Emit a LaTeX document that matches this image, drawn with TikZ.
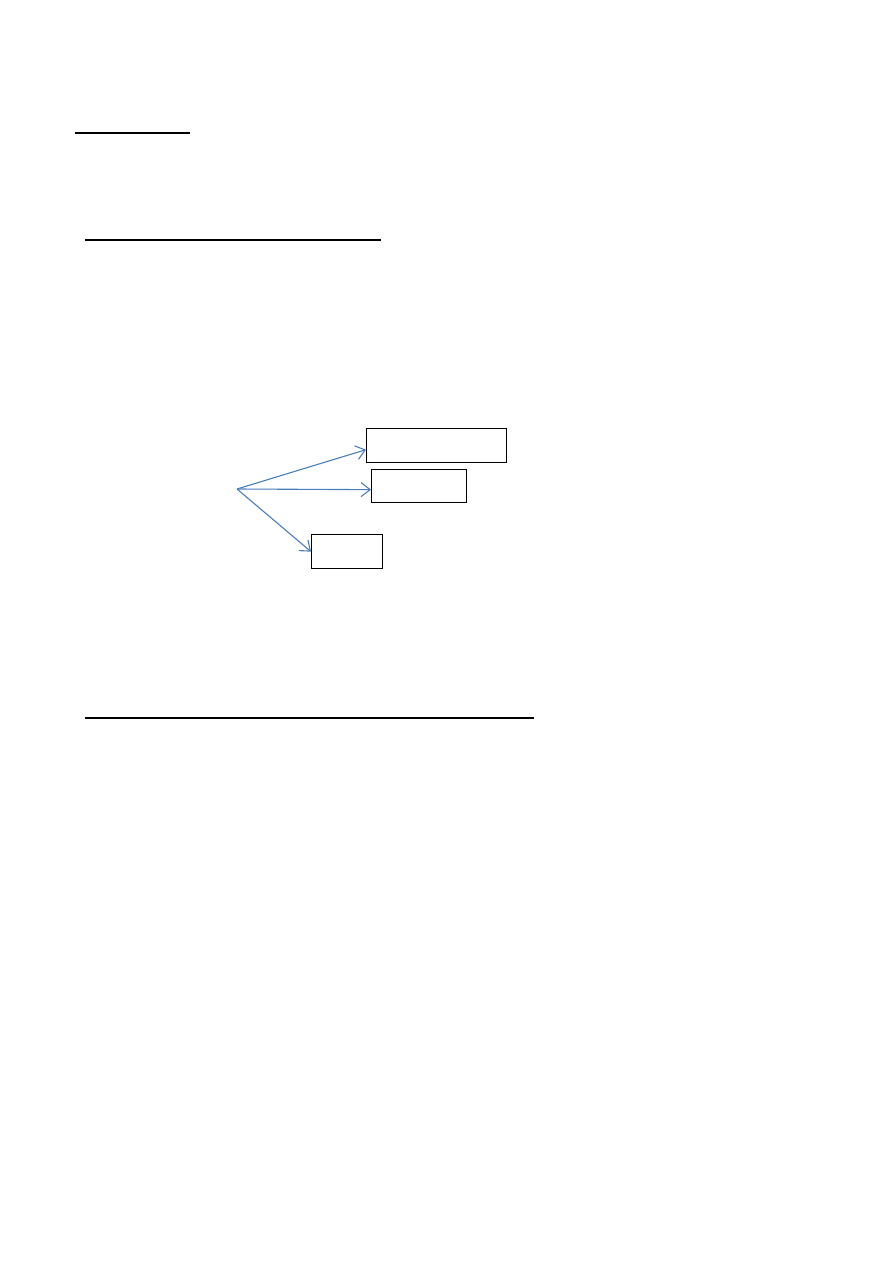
\documentclass[tikz,border=0pt]{standalone}
\usepackage{color}
\usepackage{tikz}
\usetikzlibrary{arrows.meta}
\definecolor{officeblue}{HTML}{4A7EBB}
\tikzstyle{box} = [rectangle, draw=black, line width=1.3pt, inner sep=0pt, anchor=north west]
\tikzstyle{rule} = [black, line width=2pt]
\tikzstyle{arrow} = [officeblue, line width=1.1pt, -{Straight Barb[length=9pt, width=14pt, line width=1.1pt]}]

\begin{document}
\begin{tikzpicture}[x=1pt, y=-1pt]
\useasboundingbox (0,0) rectangle (893,1263);

% heading rules
\draw[rule, line width=2.8pt](75,133) -- (190,133);
\draw[rule](85,240) -- (381,240);
\draw[rule](85,718) -- (534,718);

% boxes
\node(boxA)[box, minimum width=140pt, minimum height=34pt] at (366,428){};
\node(boxB)[box, minimum width=95pt, minimum height=33pt] at (371,469){};
\node(boxC)[box, minimum width=71pt, minimum height=34pt] at (311,534){};

\coordinate(origin) at (237,489);
\draw[arrow](origin) -- ([yshift=-4pt]boxA.west);
\draw[arrow](origin) -- ([yshift=-3.5pt]boxB.west);
\draw[arrow](origin) -- (boxC.west);

\end{tikzpicture}
\end{document}
